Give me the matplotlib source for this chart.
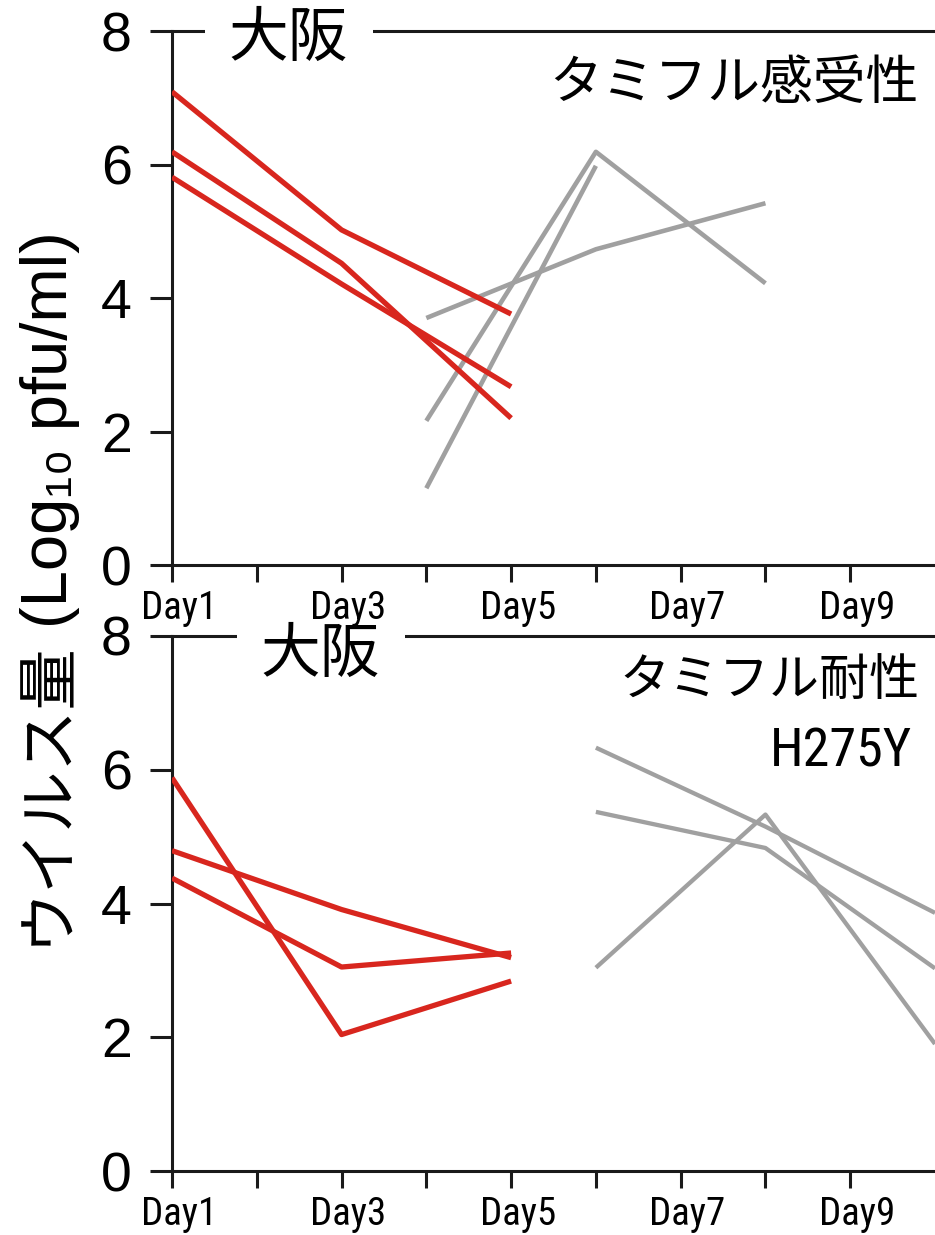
import matplotlib
matplotlib.use("Agg")
import matplotlib.pyplot as plt
from matplotlib import font_manager as fm
from matplotlib.transforms import ScaledTranslation

plt.rcParams['font.family'] = ['Liberation Sans', 'Noto Sans CJK JP', 'DejaVu Sans']

# ---------------- data ----------------
day_labels = ['Day1', '', 'Day3', '', 'Day5', '', 'Day7', '', 'Day9']
day_ticks = [1, 2, 3, 4, 5, 6, 7, 8, 9]

# top panel: Tamiflu-sensitive
top_red_days = [1, 3, 5]
top_red_1 = [7.09, 5.02, 3.76]
top_red_2 = [6.19, 4.52, 2.20]
top_red_3 = [5.81, 4.21, 2.67]
top_grey_days = [4, 6, 8]
top_grey_1 = [3.70, 4.73, 5.42]
top_grey_2 = [2.16, 6.19, 4.22]
top_grey_3_days = [4, 6]
top_grey_3 = [1.15, 5.98]

# bottom panel: Tamiflu-resistant H275Y
bot_red_days = [1, 3, 5]
bot_red_1 = [5.88, 2.04, 2.84]
bot_red_2 = [4.79, 3.91, 3.19]
bot_red_3 = [4.38, 3.05, 3.26]
bot_grey_days = [6, 8, 10]
bot_grey_1 = [6.33, 5.15, 3.86]
bot_grey_2 = [5.37, 4.83, 3.03]
bot_grey_3 = [3.04, 5.33, 1.90]

RED = '#d8261e'
GREY = '#a0a0a0'
BLACK = '#1a1a1a'
CJK = ['Noto Sans CJK JP', 'DejaVu Sans']

# ---- look for a condensed sans face (fallback: regular Liberation Sans) ----
narrow_family, narrow_stretch = None, 'normal'
ttf = fm.fontManager.ttflist
pref = ['Liberation', 'Arial', 'Roboto', 'Noto Sans', 'Open Sans', 'DejaVu Sans']
named = [f for f in ttf if ('Narrow' in f.name or 'Condensed' in f.name)
         and f.style == 'normal' and f.weight in (400, 'normal', 'regular')]
stretched = [f for f in ttf if str(f.stretch) in ('condensed', 'semi-condensed')
             and f.style == 'normal' and f.weight in (400, 'normal', 'regular')]
for group, use_stretch in ((named, False), (stretched, True)):
    if narrow_family:
        break
    for p in pref:
        hit = [f for f in group if f.name.startswith(p) and 'CJK' not in f.name]
        if hit:
            narrow_family = hit[0].name
            narrow_stretch = hit[0].stretch if use_stretch else 'normal'
            break
if narrow_family:
    NARROW = [narrow_family, 'Liberation Sans', 'DejaVu Sans']
else:
    NARROW = ['Liberation Sans', 'DejaVu Sans']

W, H = 935, 1235
fig = plt.figure(figsize=(W / 100, H / 100), dpi=100)
fig.patch.set_facecolor('white')


def px_rect(x0, y0, x1, y1):
    return [x0 / W, 1 - y1 / H, (x1 - x0) / W, (y1 - y0) / H]


ax_top = fig.add_axes(px_rect(172, 31, 935, 565))
ax_bot = fig.add_axes(px_rect(172, 636, 935, 1171))
ax_top.set_zorder(2)
ax_bot.set_zorder(1)
ax_top.patch.set_alpha(0)

offset = ScaledTranslation(5 / 72, 0, fig.dpi_scale_trans)

for ax in (ax_top, ax_bot):
    ax.set_xlim(1, 10)
    ax.set_ylim(0, 8)
    ax.set_yticks([0, 2, 4, 6, 8])
    ax.set_xticks(day_ticks)
    ax.set_xticklabels(day_labels)
    ax.spines['right'].set_visible(False)
    for s in ('top', 'left', 'bottom'):
        ax.spines[s].set_linewidth(2.2)
        ax.spines[s].set_color(BLACK)
    ax.tick_params(axis='y', direction='out', length=16, width=2.2,
                   color=BLACK, pad=13, labelsize=40)
    ax.tick_params(axis='x', direction='out', length=12, width=2.2,
                   color=BLACK, pad=6, labelsize=28)
    for lbl in ax.get_xticklabels():
        lbl.set_fontfamily(NARROW)
        lbl.set_fontstretch(narrow_stretch)
        lbl.set_transform(lbl.get_transform() + offset)
    for lbl in ax.get_yticklabels():
        lbl.set_fontfamily(['Liberation Sans', 'DejaVu Sans'])


def spine_gap(ax, f0, f1):
    # white segment that opens a gap in the top spine for the title
    ax.plot([f0, f1], [1, 1], transform=ax.transAxes, color='white', lw=6,
            solid_capstyle='butt', clip_on=False, zorder=4)


# ---------------- top panel ----------------
for vals in (top_red_1, top_red_2, top_red_3):
    ax_top.plot(top_red_days, vals, color=RED, lw=3.8, solid_capstyle='butt',
                solid_joinstyle='round', zorder=3)
for vals in (top_grey_1, top_grey_2):
    ax_top.plot(top_grey_days, vals, color=GREY, lw=3.3, solid_capstyle='butt',
                zorder=2)
ax_top.plot(top_grey_3_days, top_grey_3, color=GREY, lw=3.3,
            solid_capstyle='butt', zorder=2)

spine_gap(ax_top, 0.043, 0.263)
ax_top.text(2.365, 7.88, '大阪', ha='center', va='center', fontsize=43,
            family=CJK, color='black', clip_on=False, zorder=5)
ax_top.text(9.80, 7.22, 'タミフル感受性', ha='right', va='center', fontsize=38,
            family=CJK, color='black', zorder=5)

# ---------------- bottom panel ----------------
for vals in (bot_red_1, bot_red_2, bot_red_3):
    ax_bot.plot(bot_red_days, vals, color=RED, lw=3.8, solid_capstyle='butt',
                solid_joinstyle='round', zorder=3)
for vals in (bot_grey_1, bot_grey_2, bot_grey_3):
    ax_bot.plot(bot_grey_days, vals, color=GREY, lw=3.1, solid_capstyle='butt',
                zorder=2)

spine_gap(ax_bot, 0.085, 0.305)
ax_bot.text(2.745, 7.71, '大阪', ha='center', va='center', fontsize=43,
            family=CJK, color='black', clip_on=False, zorder=5)
ax_bot.text(9.82, 7.31, 'タミフル耐性', ha='right', va='center', fontsize=36,
            family=CJK, color='black', zorder=5)
ax_bot.text(9.73, 6.26, 'H275Y', ha='right', va='center', fontsize=39,
            family=NARROW, fontstretch=narrow_stretch, color='black', zorder=5)

# ---------------- y label ----------------
fig.text(46 / W, 1 - 792 / H, 'ウイルス量', rotation=90,
         ha='center', va='center', fontsize=44, family=CJK)
fig.text(50 / W, 1 - 430 / H, '(Log₁₀ pfu/ml)', rotation=90,
         ha='center', va='center', fontsize=47,
         family=['Liberation Sans', 'Noto Sans CJK JP', 'DejaVu Sans'])

fig.savefig('out.png', dpi=100, facecolor='white')
